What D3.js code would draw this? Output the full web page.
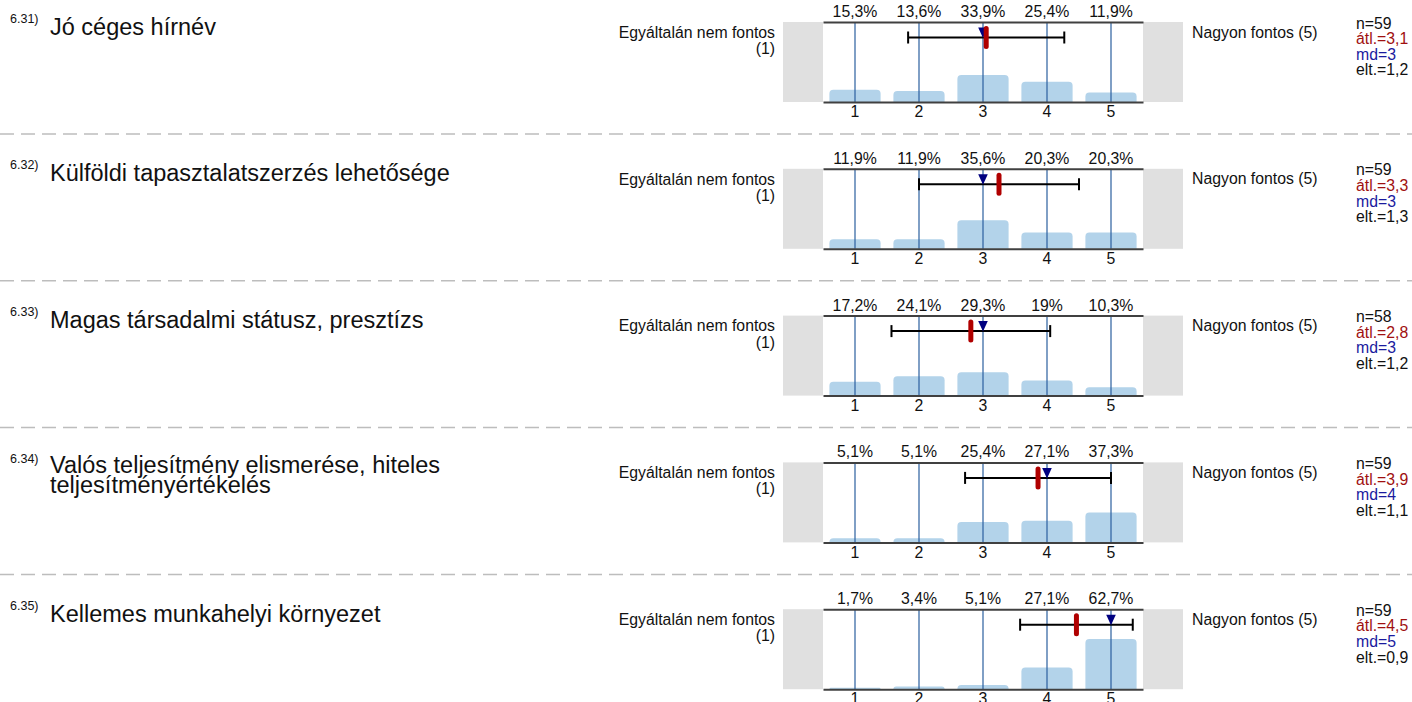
<!DOCTYPE html>
<html>
<head>
<meta charset="utf-8">
<script src="https://cdn.jsdelivr.net/npm/d3@7"></script>
<style>
  body { margin: 0; background: #fff; }
  svg { display: block; font-family: "Liberation Sans", Arial, sans-serif; }
</style>
</head>
<body>
<script>
'use strict';

//data
var categories = [1, 2, 3, 4, 5];
var itemNumbers = ['6.31)', '6.32)', '6.33)', '6.34)', '6.35)'];
var itemTitles = [
  ['Jó céges hírnév'],
  ['Külföldi tapasztalatszerzés lehetősége'],
  ['Magas társadalmi státusz, presztízs'],
  ['Valós teljesítmény elismerése, hiteles', 'teljesítményértékelés'],
  ['Kellemes munkahelyi környezet']
];
var percents = [
  [15.3, 13.6, 33.9, 25.4, 11.9],
  [11.9, 11.9, 35.6, 20.3, 20.3],
  [17.2, 24.1, 29.3, 19, 10.3],
  [5.1, 5.1, 25.4, 27.1, 37.3],
  [1.7, 3.4, 5.1, 27.1, 62.7]
];
var nValues = [59, 59, 58, 59, 59];
var means = [3.05, 3.25, 2.81, 3.86, 4.46];
var medians = [3, 3, 3, 4, 5];
var sds = [1.22, 1.25, 1.24, 1.14, 0.88];
var meanLabels = ['3,1', '3,3', '2,8', '3,9', '4,5'];
var sdLabels = ['1,2', '1,3', '1,2', '1,1', '0,9'];
var leftLabel = ['Egyáltalán nem fontos', '(1)'];
var rightLabel = 'Nagyon fontos (5)';

//general setup
var width = 1412, height = 702;
var firstTop = 22, panelStep = 146.8, plotH = 80;
var plotLeft = 823, plotRight = 1143, boxW = 40;
var fontSize = 15.8;

var svg = d3.select('body').append('svg').attr('width', width).attr('height', height);

//x scales: band for bars, linear for mean / sd
var xBand = d3.scaleBand().domain(categories).range([plotLeft, plotRight]).paddingInner(0.2).paddingOuter(0.1);
var xLin = d3.scaleLinear().domain([0.5, 5.5]).range([plotLeft, plotRight]);

function pctFormat(v) {
  return String(v).replace('.', ',') + '%';
}

function topRoundedBar(x, y, w, h, r) {
  r = Math.min(r, h, w / 2);
  return 'M' + x + ',' + (y + h) + 'V' + (y + r) + 'Q' + x + ',' + y + ' ' + (x + r) + ',' + y +
    'H' + (x + w - r) + 'Q' + (x + w) + ',' + y + ' ' + (x + w) + ',' + (y + r) + 'V' + (y + h) + 'Z';
}

percents.forEach(function (pcts, i) {
  var top = firstTop + i * panelStep;
  var bottom = top + plotH;
  var yScale = d3.scaleLinear().domain([0, 100]).range([bottom, top]);
  var g = svg.append('g');

  //title
  g.append('text').attr('x', 10).attr('y', top + 0.5).style('font-size', '12.5px').attr('fill', '#111').text(itemNumbers[i]);
  var title = g.append('text').attr('x', 50).attr('y', itemTitles[i].length > 1 ? top + 10.5 : top + 12.5)
    .style('font-size', '23.5px').attr('fill', '#111');
  itemTitles[i].forEach(function (line, j) {
    title.append('tspan').attr('x', 50).attr('dy', j === 0 ? 0 : 20).text(line);
  });

  //grey end boxes
  g.append('rect').attr('x', plotLeft - boxW).attr('y', top).attr('width', boxW).attr('height', plotH).attr('fill', '#e0e0e0');
  g.append('rect').attr('x', plotRight).attr('y', top).attr('width', boxW).attr('height', plotH).attr('fill', '#e0e0e0');

  //side labels
  var ll = g.append('text').attr('text-anchor', 'end').style('font-size', fontSize + 'px').attr('fill', '#111');
  ll.append('tspan').attr('x', 775).attr('y', top + 15.7).text(leftLabel[0]);
  ll.append('tspan').attr('x', 775).attr('y', top + 32).text(leftLabel[1]);
  g.append('text').attr('x', 1192).attr('y', top + 15.5).style('font-size', fontSize + 'px').attr('fill', '#111').text(rightLabel);

  //stats
  var stats = [
    { t: 'n=' + nValues[i], c: '#111' },
    { t: 'átl.=' + meanLabels[i], c: '#a01010' },
    { t: 'md=' + medians[i], c: '#1a1a9e' },
    { t: 'elt.=' + sdLabels[i], c: '#111' }
  ];
  g.selectAll('.stat').data(stats).enter().append('text').attr('class', 'stat')
    .attr('x', 1356).attr('y', function (d, k) { return top + 6.5 + k * 15.6; })
    .style('font-size', fontSize + 'px').attr('fill', function (d) { return d.c; })
    .text(function (d) { return d.t; });

  //bars
  g.selectAll('.bar').data(pcts).enter().append('path').attr('class', 'bar')
    .attr('d', function (d, k) {
      var y = yScale(d);
      return topRoundedBar(xBand(categories[k]), y, xBand.bandwidth(), bottom - y, 4);
    })
    .attr('fill', '#b3d3ea');

  //vertical category lines
  g.selectAll('.vline').data(categories).enter().append('line').attr('class', 'vline')
    .attr('x1', function (d) { return xLin(d); }).attr('x2', function (d) { return xLin(d); })
    .attr('y1', top).attr('y2', bottom).attr('stroke', '#2b5f9e').attr('stroke-width', 1.2);

  //top axis with percentages
  var topAxis = g.append('g').attr('transform', 'translate(0,' + top + ')')
    .call(d3.axisTop(xBand).tickSize(0).tickSizeOuter(0).tickPadding(5)
      .tickFormat(function (d, k) { return pctFormat(pcts[k]); }));
  //bottom axis with categories
  var bottomAxis = g.append('g').attr('transform', 'translate(0,' + bottom + ')')
    .call(d3.axisBottom(xBand).tickSize(0).tickSizeOuter(0).tickPadding(4));
  [topAxis, bottomAxis].forEach(function (ax) {
    ax.select('.domain').attr('stroke', '#404040').attr('stroke-width', 2);
    ax.selectAll('text').style('font-size', fontSize + 'px').style('font-family', '"Liberation Sans", Arial, sans-serif').attr('fill', '#111');
  });

  //sd error bar
  var ey = top + 15.5;
  var lo = xLin(means[i] - sds[i]), hi = xLin(means[i] + sds[i]);
  g.append('line').attr('x1', lo).attr('x2', hi).attr('y1', ey).attr('y2', ey).attr('stroke', '#000').attr('stroke-width', 2);
  [lo, hi].forEach(function (x) {
    g.append('line').attr('x1', x).attr('x2', x).attr('y1', ey - 6).attr('y2', ey + 6).attr('stroke', '#000').attr('stroke-width', 2);
  });

  //median triangle
  var mx = xLin(medians[i]);
  g.append('path').attr('d', 'M' + (mx - 4.8) + ',' + (top + 5.5) + 'L' + (mx + 4.8) + ',' + (top + 5.5) + 'L' + mx + ',' + (ey + 0.5) + 'Z')
    .attr('fill', '#000080');

  //mean marker
  var ax = xLin(means[i]);
  g.append('line').attr('x1', ax).attr('x2', ax).attr('y1', top + 6.5).attr('y2', top + 24.5)
    .attr('stroke', '#b00000').attr('stroke-width', 5).attr('stroke-linecap', 'round');

  //dashed separator
  if (i < percents.length - 1) {
    svg.append('line').attr('x1', 0).attr('x2', width).attr('y1', top + 112).attr('y2', top + 112)
      .attr('stroke', '#bdbdbd').attr('stroke-width', 1.5).attr('stroke-dasharray', '14,7');
  }
});
</script>
</body>
</html>
